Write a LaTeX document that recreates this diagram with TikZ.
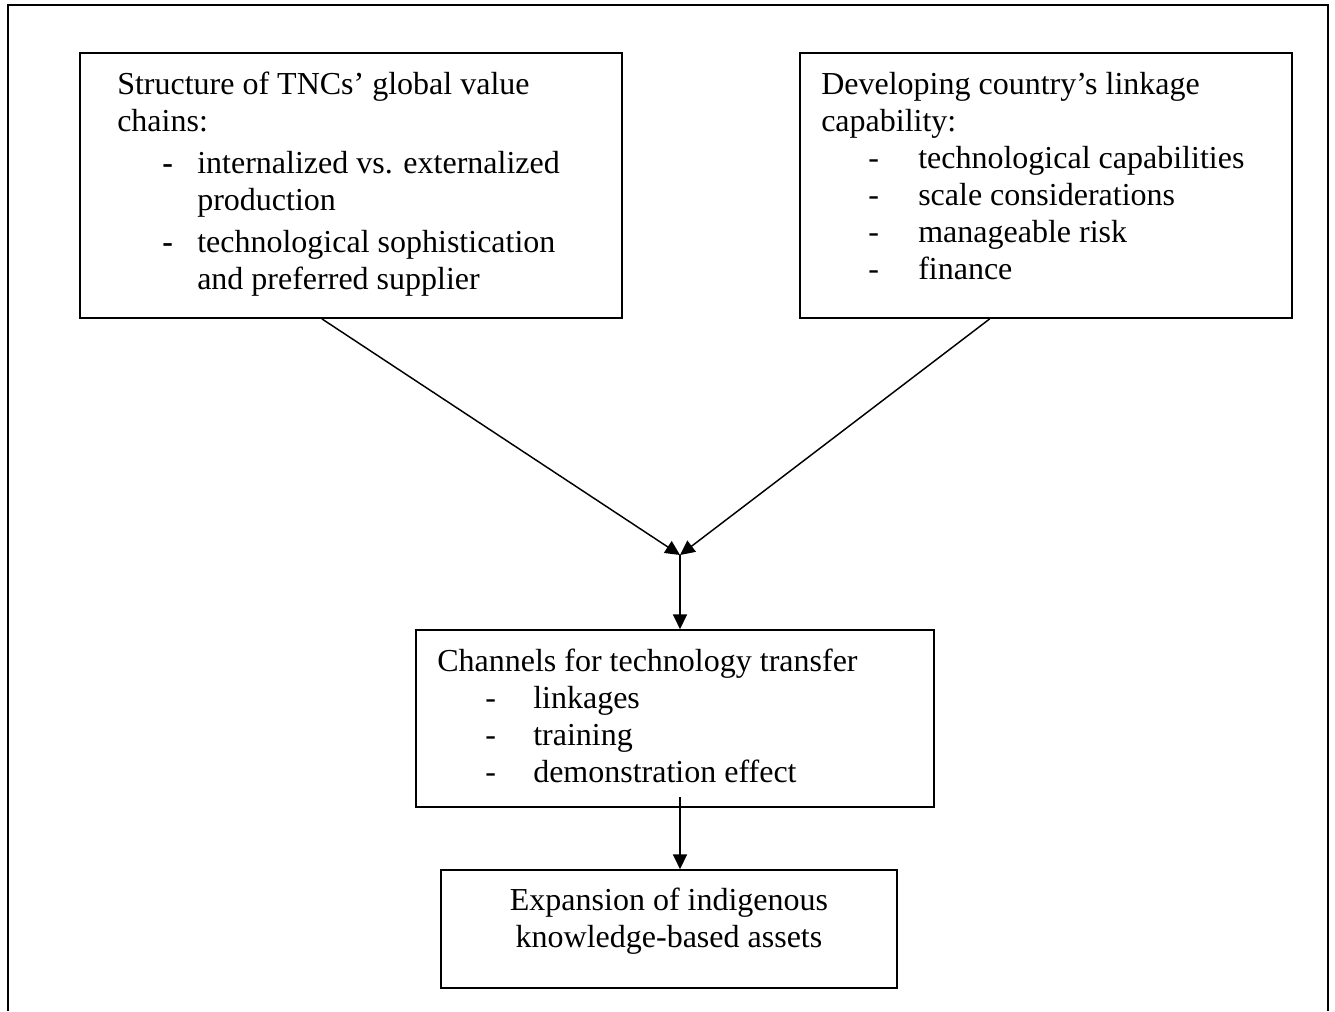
\documentclass[tikz,border=0pt]{standalone}
\usepackage{fontspec}
\setmainfont{Liberation Serif}
\usetikzlibrary{fit,calc,arrows.meta}
\tikzset{
  box/.style={draw, line width=1.3pt, inner sep=0pt},
  txt/.style={anchor=base west, inner sep=0pt, font=\fontsize{24}{27.75}\selectfont},
  ctxt/.style={anchor=base, inner sep=0pt, font=\fontsize{24}{27.75}\selectfont},
  bdash/.style={anchor=base west, inner sep=0pt, font=\fontsize{24}{27.75}\selectfont\bfseries},
  arr/.style={line width=1.1pt, -{Triangle[length=11pt,width=10.5pt]}},
  frame/.style={line width=1.3pt}
}
\begin{document}
\begin{tikzpicture}[x=0.75pt,y=-0.75pt]
\useasboundingbox (0,0) rectangle (1335,1011);
% outer frame
\draw[frame] (8,1011) -- (8,5) -- (1328,5) -- (1328,1011);
% boxes
\node[box, fit={(80,53) (622,318)}] (b1) {};
\node[box, fit={(800,53) (1292,318)}] (b2) {};
\node[box, fit={(416,630) (934,807)}] (b3) {};
\node[box, fit={(441,870) (897,988)}] (b4) {};
% box 1 text
\node[txt] (t11) at (117,94) {Structure of TNCs’ global value};
\node[txt] (t12) at (117,131) {chains:};
\node[bdash] (d11) at (162,173) {-};
\node[txt] (t13) at (197,173) {internalized vs. externalized};
\node[txt] (t14) at (197,210) {production};
\node[bdash] (d12) at (162,252) {-};
\node[txt] (t15) at (197,252) {technological sophistication};
\node[txt] (t16) at (197,289) {and preferred supplier};
% box 2 text
\node[txt] (t21) at (821,94) {Developing country’s linkage};
\node[txt] (t22) at (821,131) {capability:};
\node[txt] (d21) at (868,168) {-};
\node[txt] (t23) at (918,168) {technological capabilities};
\node[txt] (d22) at (868,205) {-};
\node[txt] (t24) at (918,205) {scale considerations};
\node[txt] (d23) at (868,242) {-};
\node[txt] (t25) at (918,242) {manageable risk};
\node[txt] (d24) at (868,279) {-};
\node[txt] (t26) at (918,279) {finance};
% box 3 text
\node[txt] (t31) at (437,671) {Channels for technology transfer};
\node[txt] (d31) at (485,708) {-};
\node[txt] (t32) at (533,708) {linkages};
\node[txt] (d32) at (485,745) {-};
\node[txt] (t33) at (533,745) {training};
\node[txt] (d33) at (485,782) {-};
\node[txt] (t34) at (533,782) {demonstration effect};
% box 4 text
\node[ctxt] (t41) at (669,910) {Expansion of indigenous};
\node[ctxt] (t42) at (669,947) {knowledge-based assets};
% connectors
\coordinate (m) at (680,555);
\coordinate (s4) at (680,797);
\draw[arr] ($(b1.south west)!0.4465!(b1.south east)$) -- (m);
\draw[arr] ($(b2.south west)!0.386!(b2.south east)$) -- (m);
\draw[arr] (m) -- (m |- b3.north);
\draw[arr] (s4) -- (s4 |- b4.north);
\end{tikzpicture}
\end{document}
